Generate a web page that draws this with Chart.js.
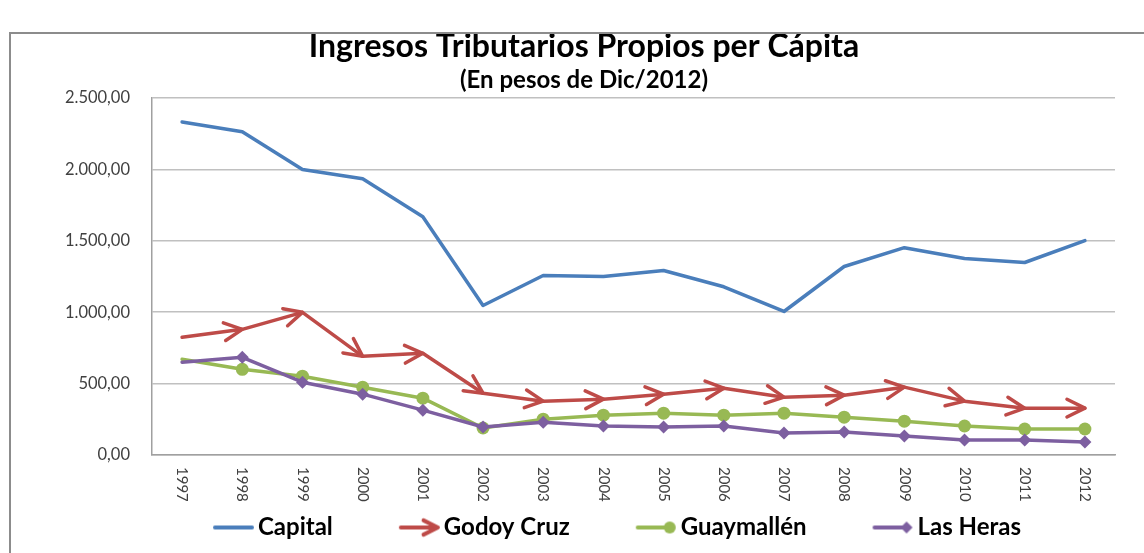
<!DOCTYPE html>
<html>
<head>
<meta charset="utf-8">
<script src="https://cdn.jsdelivr.net/npm/chart.js@4.4.1/dist/chart.umd.min.js"></script>
<style>
  html, body { margin: 0; padding: 0; background: #fff; }
  #wrap { position: relative; width: 1144px; height: 553px; overflow: hidden; }
  #frame { position: absolute; left: 9px; top: 32px; width: 1200px; height: 600px;
           border-left: 2px solid #8c8c8c; border-top: 2px solid #8c8c8c; pointer-events: none; }
  canvas { position: absolute; left: 0; top: 0; }
</style>
</head>
<body>
<div id="wrap">
  <canvas id="chart" width="1144" height="553"></canvas>
  <div id="frame"></div>
</div>
<script>
// data
const years = ['1997', '1998', '1999', '2000', '2001', '2002', '2003', '2004',
               '2005', '2006', '2007', '2008', '2009', '2010', '2011', '2012'];
const capital    = [2332, 2263, 2000, 1934, 1669, 1047, 1257, 1250, 1292, 1178, 1005, 1320, 1452, 1376, 1348, 1501];
const godoyCruz  = [824, 880, 999, 691, 712, 433, 377, 391, 426, 468, 405, 419, 475, 377, 328, 328];
const guaymallen = [670, 600, 552, 475, 398, 189, 251, 279, 293, 279, 293, 265, 237, 203, 182, 182];
const lasHeras   = [650, 684, 510, 426, 314, 196, 230, 203, 196, 203, 154, 161, 133, 105, 105, 91];
const yMax = 2500, yStep = 500;

const BLUE = '#4a7ebb', RED = '#be4b48', GREEN = '#98b954', PURPLE = '#7d5fa0';
const FONT = 'Lato';

/** 2500 -> "2.500,00" */
function fmt(v) {
  const s = String(Math.round(v)).replace(/\B(?=(\d{3})+(?!\d))/g, '.');
  return s + ',00';
}

function drawArrow(ctx, x, y, a, len = 20, spread = 0.46) {
  ctx.beginPath();
  ctx.moveTo(x - len * Math.cos(a - spread), y - len * Math.sin(a - spread));
  ctx.lineTo(x, y);
  ctx.lineTo(x - len * Math.cos(a + spread), y - len * Math.sin(a + spread));
  ctx.stroke();
}

/** small legend swatch: a line with the series end marker */
function legendImg(kind, color, w) {
  const c = document.createElement('canvas');
  c.width = w; c.height = 22;
  const g = c.getContext('2d');
  g.strokeStyle = color; g.fillStyle = color; g.lineWidth = 4; g.lineCap = 'round';
  const x1 = w - 40, x2 = w - 3, y = 11;
  g.beginPath(); g.moveTo(x1, y); g.lineTo(kind === 'line' ? x2 : x2 - 5, y); g.stroke();
  if (kind === 'arrow') {
    g.lineWidth = 4; g.lineJoin = 'round';
    drawArrow(g, x2, y, 0, 16);
  } else if (kind === 'circle') {
    g.beginPath(); g.arc(x2 - 5, y, 6, 0, Math.PI * 2); g.fill();
  } else if (kind === 'diamond') {
    g.beginPath();
    g.moveTo(x2 - 11, y); g.lineTo(x2 - 5, y - 6); g.lineTo(x2 + 1, y); g.lineTo(x2 - 5, y + 6);
    g.closePath(); g.fill();
  }
  return c;
}

// open arrowheads at the end of each Godoy Cruz segment
const arrowHeads = {
  id: 'arrowHeads',
  afterDatasetDraw(chart, args) {
    const ds = chart.data.datasets[args.index];
    if (!ds.arrowHead) return;
    const pts = args.meta.data;
    const ctx = chart.ctx;
    ctx.save();
    ctx.strokeStyle = ds.borderColor;
    ctx.lineWidth = ds.borderWidth;
    ctx.lineCap = 'round';
    ctx.lineJoin = 'round';
    for (let i = 1; i < pts.length; i++) {
      const a = Math.atan2(pts[i].y - pts[i - 1].y, pts[i].x - pts[i - 1].x);
      drawArrow(ctx, pts[i].x, pts[i].y, a);
    }
    ctx.restore();
  }
};

// year labels written top to bottom under the axis
const yearLabels = {
  id: 'yearLabels',
  afterDraw(chart) {
    const sc = chart.scales.x;
    const ctx = chart.ctx;
    ctx.save();
    ctx.font = '15px ' + FONT;
    ctx.fillStyle = '#404040';
    ctx.textAlign = 'left';
    ctx.textBaseline = 'middle';
    years.forEach((lab, i) => {
      ctx.save();
      ctx.translate(sc.getPixelForTick(i), sc.top + 12);
      ctx.rotate(Math.PI / 2);
      ctx.fillText(lab, 0, 0);
      ctx.restore();
    });
    ctx.restore();
  }
};

function build() {
  const LW = 99; // legend box width (includes spacing)
  const swatches = [
    legendImg('line', BLUE, LW + 18),
    legendImg('arrow', RED, LW + 18),
    legendImg('circle', GREEN, LW + 18),
    legendImg('diamond', PURPLE, LW + 18)
  ];
  const firstHidden = c => c.dataIndex === 0 ? 0 : 6.5;

  new Chart(document.getElementById('chart'), {
    type: 'line',
    data: {
      labels: years,
      datasets: [
        { label: 'Capital', data: capital, borderColor: BLUE, backgroundColor: BLUE,
          borderWidth: 3.5, pointRadius: 0, order: 4 },
        { label: 'Godoy Cruz', data: godoyCruz, borderColor: RED, backgroundColor: RED,
          borderWidth: 3.5, pointRadius: 0, arrowHead: true, order: 3 },
        { label: 'Guaymallén', data: guaymallen, borderColor: GREEN, backgroundColor: GREEN,
          borderWidth: 3.5, pointStyle: 'circle', pointRadius: firstHidden,
          pointBackgroundColor: GREEN, pointBorderWidth: 0, order: 2 },
        { label: 'Las Heras', data: lasHeras, borderColor: PURPLE, backgroundColor: PURPLE,
          borderWidth: 3.5, pointStyle: 'rectRot', pointRadius: firstHidden,
          pointBackgroundColor: PURPLE, pointBorderWidth: 0, order: 1 }
      ]
    },
    options: {
      responsive: false,
      animation: false,
      events: [],
      elements: { line: { tension: 0, borderJoinStyle: 'round', borderCapStyle: 'round' } },
      layout: { padding: { left: 53, right: 29, top: 27.8, bottom: 3.5 } },
      plugins: {
        title: {
          display: true,
          text: 'Ingresos Tributarios Propios per Cápita',
          color: '#000',
          font: { family: FONT, size: 32, weight: 'bold' },
          padding: { top: 0, bottom: 0 }
        },
        subtitle: {
          display: true,
          text: '(En pesos de Dic/2012)',
          color: '#000',
          font: { family: FONT, size: 24, weight: 'bold' },
          padding: { top: 0, bottom: 3 }
        },
        legend: {
          position: 'bottom',
          labels: {
            usePointStyle: true,
            pointStyleWidth: LW,
            boxHeight: 22,
            padding: 0,
            color: '#000',
            font: { family: FONT, size: 24, weight: 'bold' },
            generateLabels(chart) {
              const items = Chart.defaults.plugins.legend.labels.generateLabels(chart);
              items.forEach(it => { it.pointStyle = swatches[it.datasetIndex]; });
              return items;
            },
            sort: (a, b) => a.datasetIndex - b.datasetIndex
          }
        },
        tooltip: { enabled: false }
      },
      scales: {
        x: {
          offset: true,
          grid: { display: false, drawTicks: false },
          border: { display: true, color: '#a0a0a0', width: 1.5 },
          ticks: { display: false },
          afterFit(s) { s.height = 60.5; }
        },
        y: {
          min: 0,
          max: yMax,
          grid: { color: '#c0c0c0', lineWidth: 1.5, drawTicks: false },
          border: { display: true, color: '#a0a0a0', width: 1.5 },
          ticks: {
            stepSize: yStep,
            padding: 22,
            color: '#404040',
            font: { family: FONT, size: 16.5 },
            callback: v => fmt(v)
          },
          afterFit(s) { s.width = 99; }
        }
      }
    },
    plugins: [arrowHeads, yearLabels]
  });
}

Promise.all([
  document.fonts.load('bold 28px ' + FONT),
  document.fonts.load('16px ' + FONT)
]).then(build, build);
</script>
</body>
</html>
